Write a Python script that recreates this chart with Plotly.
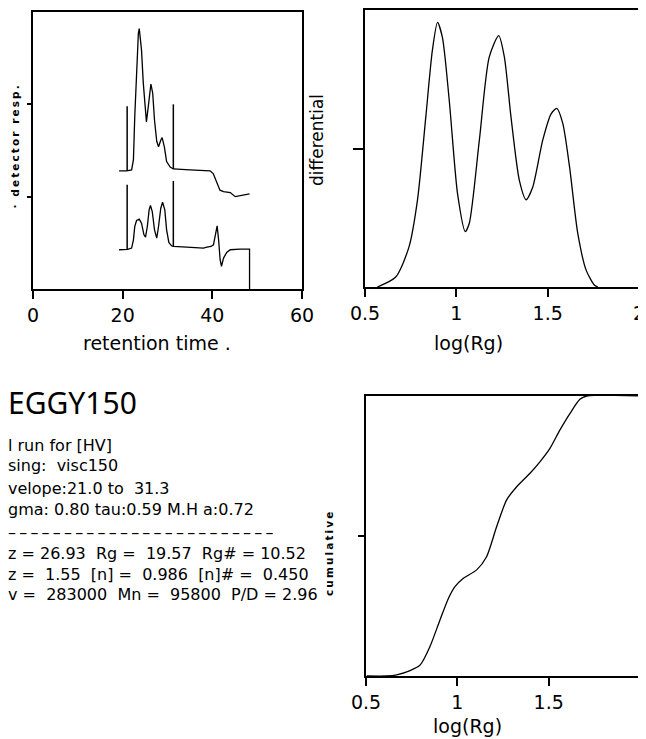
import plotly.graph_objects as go

# page is shown with an 8px body margin, so the figure is drawn from page pixel (8, 8)
OFF = 8
W, H = 646 - OFF, 739 - OFF

# ---------------- data ----------------
# detector traces (retention time vs response)
upper_t = [19.2, 20.9, 22.0, 22.4, 22.7, 23.1, 23.5, 23.7, 24.2, 24.6, 25.1, 25.3, 25.7, 26.1, 26.3,
           26.7, 27.1, 27.6, 28.0, 28.5, 28.8, 29.3, 29.8, 30.6, 31.3, 35.0, 39.5, 40.2, 41.0, 41.7,
           42.5, 44.0, 45.1, 46.2, 48.3]
upper_y = [1.28, 1.28, 1.29, 1.40, 1.87, 2.41, 2.77, 2.82, 2.59, 2.23, 1.90, 1.81, 1.97, 2.19, 2.22,
           2.12, 1.83, 1.60, 1.54, 1.61, 1.64, 1.54, 1.38, 1.32, 1.30, 1.29, 1.28, 1.25, 1.16, 1.07,
           1.055, 1.044, 1.00, 1.01, 1.03]

lower_t = [19.2, 21.1, 22.0, 22.4, 22.7, 23.1, 23.7, 24.2, 24.75, 25.1, 25.5, 25.9, 26.2, 26.6, 27.1,
           27.6, 28.0, 28.5, 28.9, 29.4, 29.8, 30.3, 30.9, 31.3, 34.3, 38.0, 38.8, 39.7, 40.25, 40.6,
           41.07, 41.4, 41.74, 42.04, 42.5, 43.2, 44.0, 46.2, 48.3, 48.3]
lower_y = [0.425, 0.429, 0.443, 0.533, 0.677, 0.742, 0.756, 0.713, 0.587, 0.562, 0.677, 0.857, 0.904,
           0.839, 0.641, 0.551, 0.677, 0.875, 0.940, 0.857, 0.641, 0.504, 0.468, 0.461, 0.454, 0.443,
           0.454, 0.461, 0.479, 0.587, 0.684, 0.533, 0.317, 0.245, 0.335, 0.396, 0.425, 0.432, 0.432, 0.0]

envelope_t = [21.0, 31.3]
upper_env_base = [1.28, 1.30]
upper_env_top = [1.98, 2.00]
lower_env_base = [0.43, 0.46]
lower_env_top = [1.13, 1.17]

# differential distribution vs log(Rg)
diff_x = [0.568, 0.668, 0.741, 0.787, 0.833, 0.869, 0.897, 0.924, 0.961, 1.007, 1.049, 1.071, 1.126,
          1.180, 1.232, 1.263, 1.299, 1.345, 1.382, 1.418, 1.473, 1.519, 1.550, 1.583, 1.620, 1.665,
          1.711, 1.757, 1.775]
diff_y = [0.0, 0.072, 0.29, 0.625, 1.23, 1.71, 1.91, 1.80, 1.35, 0.67, 0.40, 0.46, 1.06, 1.66, 1.815,
          1.66, 1.23, 0.77, 0.63, 0.72, 1.06, 1.25, 1.29, 1.18, 0.865, 0.385, 0.12, 0.012, 0.0]

# cumulative distribution vs log(Rg)
cum_x = [0.504, 0.613, 0.668, 0.741, 0.796, 0.85, 0.905, 0.951, 0.987, 1.033, 1.106, 1.16, 1.215,
         1.27, 1.325, 1.398, 1.452, 1.507, 1.562, 1.617, 1.671, 1.708, 2.0]
cum_y = [0.0, 0.0, 0.004, 0.019, 0.039, 0.105, 0.2, 0.277, 0.319, 0.349, 0.379, 0.426, 0.533, 0.629,
         0.676, 0.724, 0.765, 0.813, 0.879, 0.938, 0.988, 1.0, 1.0]

rt_ticks = [0, 20, 40, 60]
rg_ticks = [0.5, 1, 1.5, 2]
rg_ticktext = ["0.5", "1", "1.5", "2"]

title_text = "EGGY150"
info_lines = [
    "l run for [HV]",
    "sing:  visc150",
    "velope:21.0 to  31.3",
    "gma: 0.80 tau:0.59 M.H a:0.72",
    "\u2013\u2009" * 24,
    "z = 26.93  Rg =  19.57  Rg# = 10.52",
    "z =  1.55  [n] =  0.986  [n]# =  0.450",
    "v =  283000  Mn =  95800  P/D = 2.96",
]

# ---------------- layout helpers (page pixels -> paper fractions) ----------------
def px_x(p):
    return (p - OFF) / W

def px_y(p):
    return 1 - (p - OFF) / H

LINE = dict(color="black", width=1.3)
FONT = "DejaVu Sans"

fig = go.Figure()

def sep_segments(xs, bases, tops):
    X, Y = [], []
    for x, b, t in zip(xs, bases, tops):
        X += [x, x, None]
        Y += [b, t, None]
    return X, Y

fig.add_trace(go.Scatter(x=upper_t, y=upper_y, mode="lines", line=LINE, xaxis="x", yaxis="y"))
fig.add_trace(go.Scatter(x=lower_t, y=lower_y, mode="lines", line=LINE, xaxis="x", yaxis="y"))
ex, ey = sep_segments(envelope_t, upper_env_base, upper_env_top)
fig.add_trace(go.Scatter(x=ex, y=ey, mode="lines", line=dict(color="black", width=1.5), xaxis="x", yaxis="y"))
ex, ey = sep_segments(envelope_t, lower_env_base, lower_env_top)
fig.add_trace(go.Scatter(x=ex, y=ey, mode="lines", line=dict(color="black", width=1.5), xaxis="x", yaxis="y"))

fig.add_trace(go.Scatter(x=diff_x, y=diff_y, mode="lines", line=dict(color="black", width=1.3, shape="spline", smoothing=0.7),
                         xaxis="x2", yaxis="y2"))
fig.add_trace(go.Scatter(x=cum_x, y=cum_y, mode="lines", line=dict(color="black", width=1.3, shape="spline", smoothing=0.7),
                         xaxis="x3", yaxis="y3"))

def axis(domain, rng, tickvals, ticktext=None, ticklen=8, showlabels=True, anchor=None):
    d = dict(domain=domain, range=rng, tickvals=tickvals, showline=True, mirror=True,
             linecolor="black", linewidth=2, showgrid=False, zeroline=False,
             ticks="outside", ticklen=ticklen, tickwidth=1.5, tickcolor="black",
             showticklabels=showlabels, tickfont=dict(family=FONT, size=19, color="black"),
             fixedrange=True, automargin=False)
    if ticktext is not None:
        d["ticktext"] = ticktext
    if anchor:
        d["anchor"] = anchor
    return d

fig.update_layout(
    width=W, height=H,
    margin=dict(l=0, r=0, t=0, b=0, pad=0, autoexpand=False),
    paper_bgcolor="white", plot_bgcolor="white",
    showlegend=False,
    xaxis=axis([px_x(33), px_x(302)], [0, 60], rt_ticks, anchor="y"),
    yaxis=axis([px_y(289), px_y(12)], [0, 3], [1, 2], ticklen=4, showlabels=False, anchor="x"),
    xaxis2=axis([px_x(365), px_x(639)], [0.5, 2], rg_ticks, rg_ticktext, anchor="y2"),
    yaxis2=axis([px_y(287), px_y(10)], [0, 2], [1], ticklen=10, showlabels=False, anchor="x2"),
    xaxis3=axis([px_x(366), px_x(640)], [0.5, 2], rg_ticks, rg_ticktext, anchor="y3"),
    yaxis3=axis([px_y(676), px_y(396)], [0, 1], [0.5], ticklen=6, showlabels=False, anchor="x3"),
)

ann = []
def label(text, x, y, size, angle=0, bold=False, family=FONT, xanchor="center"):
    ann.append(dict(text=text, x=px_x(x), y=px_y(y), xref="paper", yref="paper",
                    xanchor=xanchor, yanchor="middle", showarrow=False, textangle=angle,
                    font=dict(family=family, size=size, color="black",
                              weight="bold" if bold else "normal")))

label("retention time .", 157, 343, 19)
label("log(Rg)", 468, 343, 19)
label("log(Rg)", 467, 726, 19)
label("differential", 317, 140, 17, angle=-90)
label("\u2009".join("\u00b7 detector resp."), 14.5, 147, 10.5, angle=-90, bold=True)
label("\u2009".join("cumulative"), 329, 554, 10.5, angle=-90, bold=True)

label(title_text, OFF - 2, 402, 30, family="Noto Sans", xanchor="left")
line_y = [445, 465, 488, 509, 532, 553, 574, 594]
for t, yy in zip(info_lines, line_y):
    label(t, OFF - 2, yy, 16, xanchor="left")

fig.update_layout(annotations=ann)
fig.write_html("out.html")
